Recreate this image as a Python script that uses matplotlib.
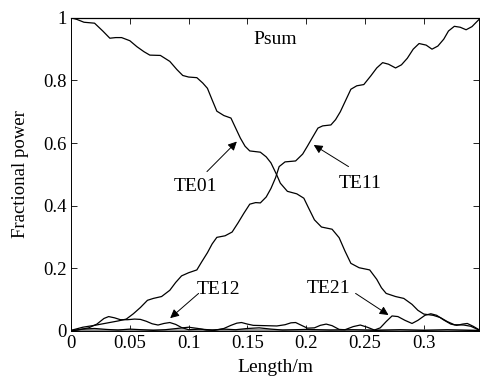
import matplotlib.pyplot as plt

plt.rcParams["font.family"] = ["Liberation Serif", "DejaVu Serif"]

# -----------------------
# Data
# -----------------------
te01_x = [0, 0.005, 0.011, 0.020, 0.027, 0.033, 0.038, 0.043, 0.050, 0.056,
          0.062, 0.067, 0.076, 0.084, 0.090, 0.095, 0.100, 0.107, 0.112, 0.116,
          0.120, 0.124, 0.130, 0.136, 0.140, 0.144, 0.148, 0.152, 0.161, 0.166,
          0.170, 0.175, 0.178, 0.184, 0.192, 0.198, 0.202, 0.207, 0.213, 0.222,
          0.228, 0.233, 0.238, 0.245, 0.254, 0.260, 0.264, 0.268, 0.276, 0.283,
          0.290, 0.295, 0.300, 0.308, 0.314, 0.320, 0.326, 0.334, 0.340, 0.347]
te01_y = [1.0, 0.995, 0.986, 0.983, 0.958, 0.935, 0.937, 0.937, 0.927, 0.908,
          0.892, 0.881, 0.880, 0.861, 0.835, 0.816, 0.811, 0.809, 0.792, 0.775,
          0.738, 0.702, 0.688, 0.680, 0.648, 0.616, 0.590, 0.575, 0.571, 0.556,
          0.537, 0.498, 0.472, 0.446, 0.438, 0.424, 0.393, 0.355, 0.332, 0.325,
          0.298, 0.255, 0.216, 0.202, 0.195, 0.165, 0.138, 0.120, 0.110, 0.104,
          0.085, 0.066, 0.054, 0.050, 0.043, 0.030, 0.020, 0.019, 0.015, 0.003]

te11_x = [0, 0.010, 0.020, 0.030, 0.040, 0.047, 0.053, 0.059, 0.065, 0.070,
          0.077, 0.084, 0.089, 0.094, 0.100, 0.107, 0.111, 0.116, 0.120, 0.124,
          0.131, 0.137, 0.142, 0.147, 0.152, 0.157, 0.161, 0.166, 0.170, 0.174,
          0.177, 0.182, 0.191, 0.197, 0.201, 0.205, 0.210, 0.214, 0.221, 0.225,
          0.229, 0.234, 0.238, 0.243, 0.249, 0.255, 0.260, 0.265, 0.270, 0.276,
          0.281, 0.286, 0.291, 0.296, 0.302, 0.307, 0.312, 0.317, 0.321, 0.326,
          0.331, 0.336, 0.341, 0.347]
te11_y = [0.002, 0.012, 0.018, 0.025, 0.032, 0.038, 0.055, 0.075, 0.098, 0.104,
          0.110, 0.130, 0.155, 0.176, 0.186, 0.195, 0.220, 0.250, 0.278, 0.299,
          0.304, 0.316, 0.345, 0.376, 0.405, 0.410, 0.409, 0.428, 0.455, 0.490,
          0.525, 0.540, 0.543, 0.565, 0.590, 0.616, 0.648, 0.655, 0.658, 0.675,
          0.700, 0.740, 0.772, 0.783, 0.787, 0.815, 0.840, 0.857, 0.852, 0.840,
          0.850, 0.871, 0.900, 0.918, 0.913, 0.900, 0.910, 0.932, 0.958, 0.973,
          0.970, 0.962, 0.972, 0.995]

te12_x = [0, 0.008, 0.015, 0.022, 0.028, 0.032, 0.037, 0.042, 0.048, 0.054,
          0.059, 0.064, 0.069, 0.074, 0.079, 0.084, 0.089, 0.094, 0.100, 0.110,
          0.120, 0.130, 0.140, 0.150, 0.160, 0.170, 0.180, 0.200, 0.220, 0.240,
          0.260, 0.280, 0.300, 0.320, 0.347]
te12_y = [0.0, 0.005, 0.010, 0.022, 0.040, 0.046, 0.042, 0.036, 0.036, 0.038,
          0.037, 0.031, 0.023, 0.019, 0.024, 0.027, 0.021, 0.011, 0.004, 0.006,
          0.003, 0.006, 0.004, 0.008, 0.010, 0.006, 0.003, 0.005, 0.003, 0.004,
          0.002, 0.004, 0.002, 0.004, 0.001]

te21_x = [0, 0.010, 0.020, 0.030, 0.040, 0.050, 0.060, 0.070, 0.080, 0.090,
          0.100, 0.108, 0.115, 0.122, 0.130, 0.136, 0.141, 0.145, 0.150, 0.155,
          0.165, 0.175, 0.182, 0.187, 0.191, 0.196, 0.201, 0.207, 0.212, 0.217,
          0.222, 0.228, 0.233, 0.240, 0.246, 0.252, 0.258, 0.263, 0.268, 0.273,
          0.278, 0.284, 0.290, 0.295, 0.301, 0.306, 0.311, 0.317, 0.323, 0.328,
          0.333, 0.337, 0.342, 0.347]
te21_y = [0.0, 0.006, 0.008, 0.005, 0.003, 0.006, 0.004, 0.002, 0.004, 0.008,
          0.012, 0.008, 0.003, 0.002, 0.008, 0.018, 0.025, 0.027, 0.022, 0.018,
          0.017, 0.016, 0.020, 0.026, 0.027, 0.018, 0.009, 0.010, 0.018, 0.022,
          0.017, 0.005, 0.004, 0.014, 0.019, 0.012, 0.003, 0.010, 0.030, 0.048,
          0.046, 0.034, 0.024, 0.034, 0.050, 0.055, 0.050, 0.035, 0.022, 0.018,
          0.022, 0.024, 0.015, 0.004]

# small leftover modes hugging the axis
other_x = [0, 0.05, 0.10, 0.15, 0.20, 0.25, 0.30, 0.347]
other_y = [0.002, 0.003, 0.002, 0.003, 0.002, 0.003, 0.002, 0.002]

psum_x = [0, 0.347]
psum_y = [1.0, 1.0]

xticks = [0, 0.05, 0.1, 0.15, 0.2, 0.25, 0.3]
xtick_labels = ["0", "0.05", "0.1", "0.15", "0.2", "0.25", "0.3"]
yticks = [0, 0.2, 0.4, 0.6, 0.8, 1.0]
ytick_labels = ["0", "0.2", "0.4", "0.6", "0.8", "1"]

# label text: (name, text position, arrow tail, arrow head)
labels = [
    ("TE01", (0.1056, 0.461), (0.1156, 0.509), (0.141, 0.605)),
    ("TE11", (0.246, 0.472), (0.236, 0.525), (0.2064, 0.594)),
    ("TE12", (0.1255, 0.131), (0.1085, 0.120), (0.0843, 0.041)),
    ("TE21", (0.219, 0.136), (0.242, 0.120), (0.270, 0.051)),
]

# -----------------------
# Plot
# -----------------------
fig = plt.figure(figsize=(4.8, 3.8), dpi=100)
ax = fig.add_axes([0.148, 0.129, 0.850, 0.824])

ax.plot(other_x, other_y, color="#888888", lw=1.4)
ax.plot(te01_x, te01_y, color="black", lw=0.9)
ax.plot(te11_x, te11_y, color="black", lw=0.9)
ax.plot(te12_x, te12_y, color="black", lw=0.9)
ax.plot(te21_x, te21_y, color="black", lw=0.9)
ax.plot(psum_x, psum_y, color="black", lw=0.9, clip_on=False)

ax.set_xlim(0, 0.347)
ax.set_ylim(0, 1)
ax.set_xticks(xticks)
ax.set_xticklabels(xtick_labels)
ax.set_yticks(yticks)
ax.set_yticklabels(ytick_labels)
ax.tick_params(direction="in", top=True, right=True, labelsize=13.5,
               length=4, width=0.6, pad=3)
for s in ax.spines.values():
    s.set_linewidth(0.7)

ax.set_xlabel("Length/m", fontsize=14, labelpad=5)
ax.set_ylabel("Fractional power", fontsize=13.5, labelpad=10)

ax.text(0.1738, 0.932, "Psum", fontsize=14, ha="center", va="center")

for name, txt, tail, head in labels:
    ax.text(txt[0], txt[1], name, fontsize=14, ha="center", va="center")
    ax.annotate("", xy=head, xytext=tail,
                arrowprops=dict(arrowstyle="-|>", color="black", lw=0.7,
                                mutation_scale=13, shrinkA=0, shrinkB=0))

fig.savefig("out.png", dpi=100)
